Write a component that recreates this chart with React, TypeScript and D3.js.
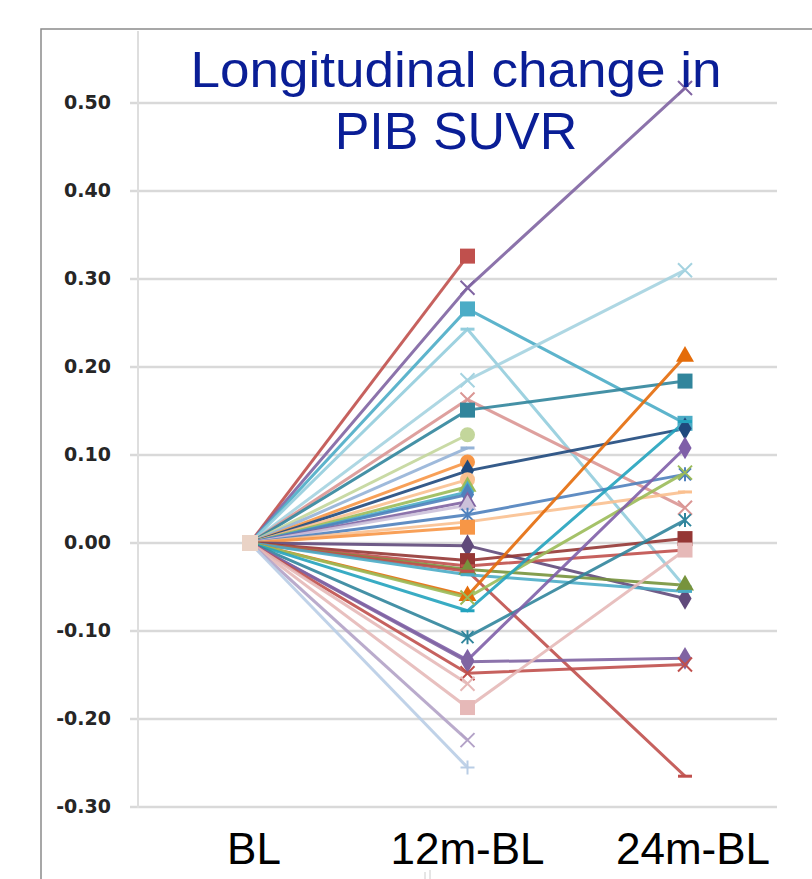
import React from "react";
import * as d3 from "d3";

const categories = ["BL", "12m-BL", "24m-BL"];
const yTicks = [0.5, 0.4, 0.3, 0.2, 0.1, 0, -0.1, -0.2, -0.3];

// change vs baseline at 12 months and 24 months (null = no 24m scan)
const change12m = [
  0.326, 0.29, 0.266, 0.243, 0.185, 0.163, 0.151, 0.123, 0.108, 0.092,
  0.082, 0.072, 0.064, 0.058, 0.055, 0.047, 0.043, 0.032, 0.024, 0.018,
  -0.003, -0.02, -0.026, -0.03, -0.032, -0.036, -0.06, -0.062, -0.077, -0.107,
  -0.133, -0.135, -0.148, -0.16, -0.187, -0.224, -0.255,
];
const change24m = [
  null, 0.517, 0.136, -0.05, 0.31, 0.04, 0.184, null, null, null,
  0.13, null, null, null, null, null, null, 0.078, 0.058, null,
  -0.063, 0.005, -0.008, -0.048, -0.265, -0.055, 0.212, 0.08, 0.138, 0.026,
  0.108, -0.131, -0.138, null, -0.008, null, null,
];

const seriesColors = [
  "#C0504D", "#8064A2", "#4BACC6", "#93CDDD", "#A5D3E0", "#DA9694", "#31859C", "#C3D69B", "#95B3D7", "#F79646",
  "#1F497D", "#FAC090", "#9BBB59", "#4BACC6", "#4F81BD", "#8064A2", "#CCC1DA", "#4F81BD", "#FAC090", "#F79646",
  "#604A7B", "#953735", "#C0504D", "#77933C", "#C0504D", "#4BACC6", "#E46C0A", "#9BBB59", "#23A3BE", "#31859C",
  "#7F5FA8", "#8064A2", "#C0504D", "#E6B9B8", "#E6B9B8", "#B3A2C7", "#B9CDE5",
];
const seriesMarkers = [
  "square", "x", "square", "dash", "x", "x", "square", "circle", "dash", "circle",
  "diamond", "circle", "triangle", "diamond", "diamond", "triangle", "triangle", "star", "dash", "square",
  "diamond", "square", "dash", "triangle", "dash", "dash", "triangle", "x", "dash", "star",
  "diamond", "diamond", "x", "x", "square", "x", "plus",
];

const W = 812;
const H = 879;

const x = d3.scalePoint<string>().domain(categories).range([250, 685]);
const y = d3.scaleLinear().domain([-0.3, 0.5]).range([807, 103]);
const fmt = (v: number) => d3.format(".2f")(v).replace("\u2212", "-");

function Marker({ kind, cx, cy, color }: { kind: string; cx: number; cy: number; color: string }) {
  const t = `translate(${cx},${cy})`;
  if (kind === "square") return <rect x={cx - 7.5} y={cy - 7.5} width={15} height={15} fill={color} />;
  if (kind === "circle") return <circle cx={cx} cy={cy} r={7.5} fill={color} />;
  if (kind === "diamond")
    return <path transform={t} d={d3.symbol().type(d3.symbolDiamond).size(150)() as string} fill={color} />;
  if (kind === "triangle")
    return <path transform={t} d={d3.symbol().type(d3.symbolTriangle).size(140)() as string} fill={color} />;
  if (kind === "dash") return <rect x={cx - 7} y={cy - 1.5} width={14} height={3} fill={color} />;
  if (kind === "plus")
    return <path transform={t} d="M-7,0H7M0,-7V7" stroke={color} strokeWidth={2} fill="none" />;
  if (kind === "star")
    return <path transform={t} d="M-6,-6L6,6M-6,6L6,-6M0,-7V7" stroke={color} strokeWidth={2} fill="none" />;
  return <path transform={t} d="M-7,-7L7,7M-7,7L7,-7" stroke={color} strokeWidth={2} fill="none" />;
}

export default function App() {
  const line = d3
    .line<[string, number]>()
    .x((d) => x(d[0]) as number)
    .y((d) => y(d[1]));

  const series = change12m.map((v12, i) => {
    const pts: [string, number][] = [[categories[0], 0], [categories[1], v12]];
    const v24 = change24m[i];
    if (v24 !== null) pts.push([categories[2], v24]);
    return { pts, color: seriesColors[i], marker: seriesMarkers[i] };
  });

  return (
    <svg width={W} height={H} style={{ position: "absolute", left: 0, top: 0, background: "#fff" }}>
      <rect x={0} y={0} width={W} height={H} fill="#fff" />
      <rect x={41} y={29} width={W} height={H} fill="none" stroke="#8a8a8a" strokeWidth={1.5} />
      <line x1={430} x2={430} y1={870} y2={879} stroke="#ccc" />
      <line x1={425} x2={425} y1={872} y2={879} stroke="#ccc" />

      {yTicks.map((t) => (
        <g key={t}>
          <line x1={130} x2={777} y1={y(t)} y2={y(t)} stroke="#d9d9d9" strokeWidth={2.5} />
          <text
            x={111}
            y={y(t)}
            textAnchor="end"
            dominantBaseline="middle"
            fontFamily="'DejaVu Sans', sans-serif"
            fontWeight={700}
            fontSize={19}
            fill="#262626"
          >
            {fmt(t)}
          </text>
        </g>
      ))}
      <line x1={138} x2={138} y1={31} y2={808} stroke="#dedede" strokeWidth={2} />

      {series.map((s, i) => (
        <path key={"l" + i} d={line(s.pts) as string} fill="none" stroke={s.color} strokeWidth={3} opacity={0.9} />
      ))}
      {series.map((s, i) =>
        s.pts.slice(1).map((p, j) => (
          <Marker key={`m${i}-${j}`} kind={s.marker} cx={x(p[0]) as number} cy={y(p[1])} color={s.color} />
        ))
      )}
      <rect x={(x("BL") as number) - 8} y={y(0) - 8} width={16} height={16} fill="#EAD3C6" />

      {categories.map((c) => (
        <text
          key={c}
          x={(x(c) as number) + (c === "24m-BL" ? 8 : c === "BL" ? 4 : 0)}
          y={864}
          textAnchor="middle"
          fontFamily="'Liberation Sans', Arial, sans-serif"
          fontSize={44}
          fill="#000"
        >
          {c}
        </text>
      ))}

      <text
        x={456}
        y={87}
        textAnchor="middle"
        fontFamily="'Liberation Sans', Arial, sans-serif"
        fontSize={50}
        fill="#0A1E96"
        textLength={531}
        lengthAdjust="spacingAndGlyphs"
      >
        Longitudinal change in
      </text>
      <text
        x={456}
        y={149}
        textAnchor="middle"
        fontFamily="'Liberation Sans', Arial, sans-serif"
        fontSize={52}
        fill="#0A1E96"
      >
        PIB SUVR
      </text>
    </svg>
  );
}
